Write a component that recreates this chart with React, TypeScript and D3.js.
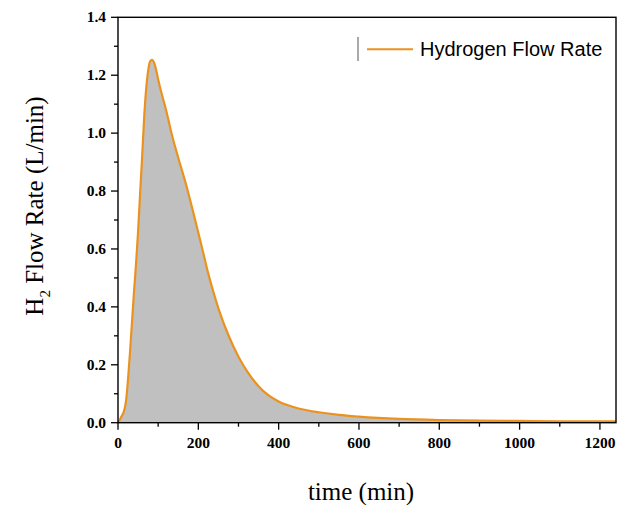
import React from "react";
import * as d3 from "d3";

const timeMin = [0, 5, 10, 15, 20, 25, 30, 35, 40, 45, 50, 55, 60, 65, 70, 75, 80, 85, 90, 95, 100, 110, 120, 135, 150, 170, 190, 210, 225, 240, 250, 275, 300, 325, 350, 375, 400, 450, 500, 550, 600, 700, 800, 900, 1000, 1100, 1240];
const flowRate = [0, 0.012, 0.025, 0.04, 0.075, 0.15, 0.245, 0.35, 0.455, 0.55, 0.66, 0.79, 0.915, 1.05, 1.15, 1.215, 1.248, 1.253, 1.243, 1.218, 1.185, 1.13, 1.078, 0.99, 0.915, 0.82, 0.712, 0.6, 0.514, 0.44, 0.395, 0.302, 0.228, 0.17, 0.126, 0.094, 0.073, 0.049, 0.036, 0.027, 0.021, 0.013, 0.009, 0.007, 0.006, 0.005, 0.005];

const xTicks = [0, 200, 400, 600, 800, 1000, 1200];
const xMinorTicks = [100, 300, 500, 700, 900, 1100];
const yTicks = [0, 0.2, 0.4, 0.6, 0.8, 1.0, 1.2, 1.4];
const yMinorTicks = [0.1, 0.3, 0.5, 0.7, 0.9, 1.1, 1.3];
const xDomain = [0, 1240];
const yDomain = [0, 1.4];
const seriesName = "Hydrogen Flow Rate";
const xLabel = "time (min)";

export default function App() {
  const W = 618, H = 505;
  const left = 118, right = 616, top = 17.3, bottom = 422.7;
  const x = d3.scaleLinear().domain(xDomain).range([left, right]);
  const y = d3.scaleLinear().domain(yDomain).range([bottom, top]);
  const data = timeMin.map((t, i) => ({ t, v: flowRate[i] }));
  const line = d3.line<any>().x(d => x(d.t)).y(d => y(d.v)).curve(d3.curveMonotoneX);
  const area = d3.area<any>().x(d => x(d.t)).y0(y(0)).y1(d => y(d.v)).curve(d3.curveMonotoneX);
  const orange = "#EB921E";
  const serif = "'Liberation Serif', 'Times New Roman', serif";
  return (
    <svg width={W} height={H} style={{ position: "absolute", left: 0, top: 0, background: "#fff" }}>
      <defs>
        <clipPath id="plot">
          <rect x={left} y={top - 2} width={right - left} height={bottom - top + 2} />
        </clipPath>
      </defs>
      <g clipPath="url(#plot)">
        <path d={area(data) || ""} fill="#C0C0C0" />
        <path d={line(data) || ""} fill="none" stroke={orange} strokeWidth={2.2} strokeLinejoin="round" />
      </g>
      <rect x={left} y={top} width={right - left} height={bottom - top} fill="none" stroke="#000" strokeWidth={1.4} />
      {xTicks.map(t => (
        <g key={"xt" + t}>
          <line x1={x(t)} x2={x(t)} y1={bottom} y2={bottom + 7} stroke="#000" strokeWidth={1.3} />
          <text x={x(t)} y={448} textAnchor="middle" fontFamily={serif} fontWeight="bold" fontSize={15.5}>{t}</text>
        </g>
      ))}
      {xMinorTicks.map(t => (
        <line key={"xm" + t} x1={x(t)} x2={x(t)} y1={bottom} y2={bottom + 4} stroke="#000" strokeWidth={1.3} />
      ))}
      {yTicks.map(v => (
        <g key={"yt" + v}>
          <line x1={left - 7} x2={left} y1={y(v)} y2={y(v)} stroke="#000" strokeWidth={1.3} />
          <text x={106} y={y(v) + 5} textAnchor="end" fontFamily={serif} fontWeight="bold" fontSize={15.5}>{v.toFixed(1)}</text>
        </g>
      ))}
      {yMinorTicks.map(v => (
        <line key={"ym" + v} x1={left - 4} x2={left} y1={y(v)} y2={y(v)} stroke="#000" strokeWidth={1.3} />
      ))}
      <text transform="translate(43,206) rotate(-90)" textAnchor="middle" fontFamily={serif} fontSize={25}>
        H<tspan fontSize={15} dy={7}>2</tspan><tspan dy={-7}> Flow Rate (L/min)</tspan>
      </text>
      <text x={361} y={500} textAnchor="middle" fontFamily={serif} fontSize={25}>{xLabel}</text>
      <line x1={358} x2={358} y1={37} y2={61} stroke="#555" strokeWidth={1} />
      <line x1={367} x2={413} y1={49.3} y2={49.3} stroke={orange} strokeWidth={2} />
      <text x={420} y={56} fontFamily="'Liberation Sans', Arial, sans-serif" fontSize={20}>{seriesName}</text>
    </svg>
  );
}
